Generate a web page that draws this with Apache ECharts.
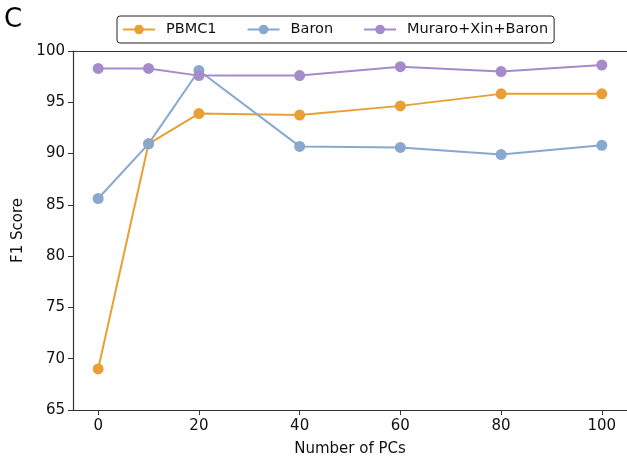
<!DOCTYPE html>
<html>
<head>
<meta charset="utf-8">
<script src="https://cdn.jsdelivr.net/npm/echarts@6/dist/echarts.min.js"></script>
<style>
  html, body { margin: 0; padding: 0; background: #fff; }
  #chart { width: 627px; height: 462px; }
</style>
</head>
<body>
<div id="chart"></div>
<script>
// number of principal components
const pcs = [0, 10, 20, 40, 60, 80, 100];
const pbmc1 = [69.0, 90.95, 93.9, 93.75, 94.65, 95.82, 95.82];
const baron = [85.62, 90.95, 98.1, 90.7, 90.6, 89.9, 90.8];
const muraroXinBaron = [98.3, 98.3, 97.6, 97.6, 98.47, 98.0, 98.63];
const seriesNames = ['PBMC1', 'Baron', 'Muraro+Xin+Baron'];
const colors = ['#E8A036', '#88A8D0', '#A68BCB'];
const xTicks = [0, 20, 40, 60, 80, 100];

const font = 'DejaVu Sans';
const axisColor = '#333';

let chart = echarts.init(document.getElementById('chart'));

function makeSeries(name, values, color) {
  return {
    name: name,
    type: 'line',
    data: pcs.map((x, i) => [x, values[i]]),
    symbol: 'circle',
    symbolSize: 11,
    color: color,
    lineStyle: { width: 2, color: color },
    itemStyle: { color: color },
    emphasis: { disabled: true }
  };
}

let option = {
  animation: false,
  textStyle: { fontFamily: font },
  graphic: [
    {
      type: 'text',
      left: 4,
      top: 7,
      style: { text: 'C', font: '26px DejaVu Sans', fill: '#000' }
    }
  ],
  legend: {
    top: 16,
    left: 117,
    data: seriesNames,
    itemWidth: 32,
    itemHeight: 12,
    itemGap: 30,
    padding: [6, 6, 6, 5],
    borderColor: '#222',
    borderWidth: 1,
    borderRadius: 3,
    textStyle: { fontFamily: font, fontSize: 14.5, color: '#111', padding: [0, 0, 0, 6] }
  },
  grid: {
    left: 73,
    top: 51,
    width: 555,
    height: 360
  },
  xAxis: [
    {
      type: 'value',
      min: -5,
      max: 105,
      name: 'Number of PCs',
      nameLocation: 'middle',
      nameGap: 32,
      nameTextStyle: { fontFamily: font, fontSize: 15, color: '#111' },
      axisLine: { show: true, onZero: false, lineStyle: { color: axisColor, width: 1.2 } },
      axisTick: { show: true, length: 5, customValues: xTicks, lineStyle: { color: axisColor } },
      axisLabel: { customValues: xTicks, fontFamily: font, fontSize: 15, color: '#111', margin: 9 },
      splitLine: { show: false }
    },
    {
      type: 'value',
      position: 'top',
      min: -5,
      max: 105,
      axisLine: { show: true, onZero: false, lineStyle: { color: axisColor, width: 1.2 } },
      axisTick: { show: false },
      axisLabel: { show: false },
      splitLine: { show: false }
    }
  ],
  yAxis: {
    type: 'value',
    min: 65,
    max: 100,
    interval: 5,
    name: 'F1 Score',
    nameLocation: 'middle',
    nameGap: 44,
    nameTextStyle: { fontFamily: font, fontSize: 15, color: '#111' },
    axisLine: { show: true, onZero: false, lineStyle: { color: axisColor, width: 1.2 } },
    axisTick: { show: true, length: 5, lineStyle: { color: axisColor } },
    axisLabel: { fontFamily: font, fontSize: 15, color: '#111', margin: 8 },
    splitLine: { show: false }
  },
  series: [
    makeSeries(seriesNames[0], pbmc1, colors[0]),
    makeSeries(seriesNames[1], baron, colors[1]),
    makeSeries(seriesNames[2], muraroXinBaron, colors[2])
  ]
};

chart.setOption(option);
</script>
</body>
</html>
